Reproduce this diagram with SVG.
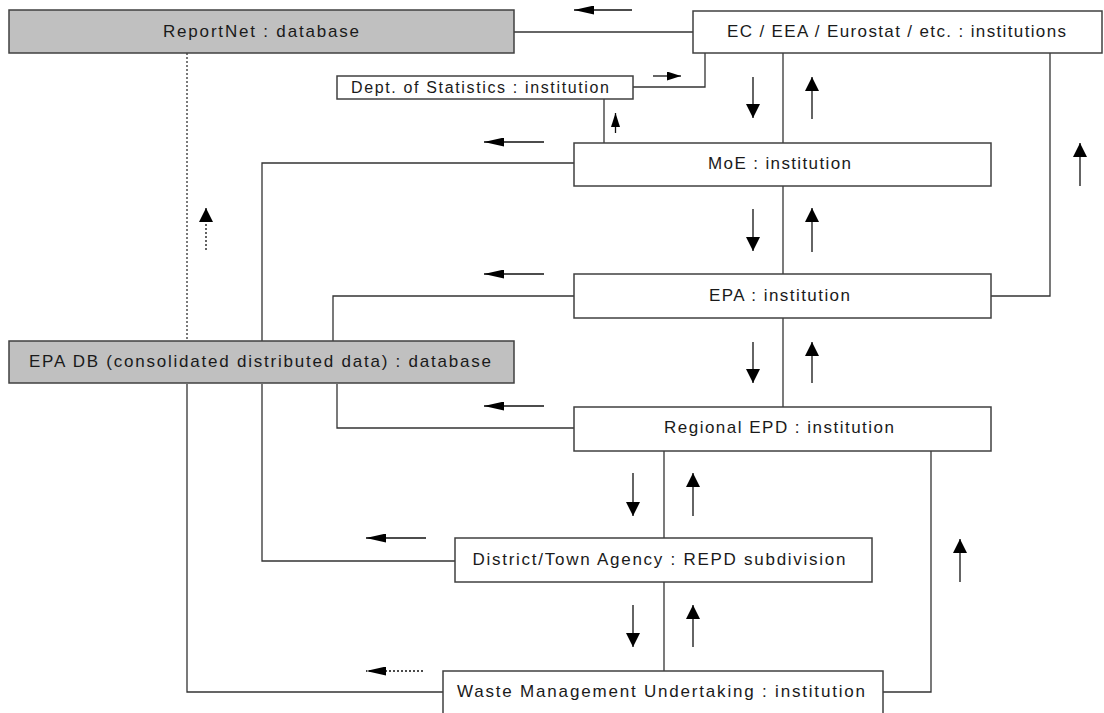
<svg xmlns="http://www.w3.org/2000/svg" width="1104" height="713" viewBox="0 0 1104 713">
<style>
.box{fill:#fff;stroke:#404040;stroke-width:1.5}
.db{fill:#c0c0c0;stroke:#404040;stroke-width:1.5}
.t{font-family:"Liberation Sans",Arial,sans-serif;font-size:17px;fill:#1a1a1a;text-anchor:middle}
.ln{fill:none;stroke:#333;stroke-width:1.3}
.dot{fill:none;stroke:#333;stroke-width:1.3;stroke-dasharray:2 2}
.av{fill:none;stroke:#111;stroke-width:1.3;marker-end:url(#hv)}
.ah{fill:none;stroke:#111;stroke-width:1.3;marker-end:url(#hh)}
.as{fill:none;stroke:#111;stroke-width:1.3;marker-end:url(#hs)}
.ad{fill:none;stroke:#111;stroke-width:1.3;stroke-dasharray:2 2;marker-end:url(#hv)}
.adh{fill:none;stroke:#111;stroke-width:1.3;stroke-dasharray:2 2;marker-end:url(#hh)}
</style>
<defs>
<marker id="hv" markerUnits="userSpaceOnUse" viewBox="0 0 14 14" refX="14" refY="7" markerWidth="14" markerHeight="14" orient="auto"><path d="M0,0 L14,7 L0,14 z" fill="#000"/></marker>
<marker id="hh" markerUnits="userSpaceOnUse" viewBox="0 0 20 9" refX="20" refY="4.5" markerWidth="20" markerHeight="9" orient="auto"><path d="M0,0 L20,4.5 L0,9 z" fill="#000"/></marker>
<marker id="hs" markerUnits="userSpaceOnUse" viewBox="0 0 14 9" refX="14" refY="4.5" markerWidth="14" markerHeight="9" orient="auto"><path d="M0,0 L14,4.5 L0,9 z" fill="#000"/></marker>
</defs>
<rect width="1104" height="713" fill="#fff"/>
<g id="connectors">
<path class="ln" d="M514,32 H693"/>
<path class="dot" d="M187,53 V341"/>
<path class="ln" d="M633,87 H705 V53"/>
<path class="ln" d="M604,99 V143"/>
<path class="ln" d="M783,53 V143"/>
<path class="ln" d="M1050,53 V296 H991"/>
<path class="ln" d="M574,163 H262 V341"/>
<path class="ln" d="M262,384 V561 H455"/>
<path class="ln" d="M783,186 V274"/>
<path class="ln" d="M574,296 H333 V341"/>
<path class="ln" d="M783,318 V407"/>
<path class="ln" d="M337,384 V428 H574"/>
<path class="ln" d="M664,451 V538"/>
<path class="ln" d="M664,582 V671"/>
<path class="ln" d="M187,384 V692 H443"/>
<path class="ln" d="M883,692 H931 V451"/>
<path class="ah" d="M632,10 H574"/>
<path class="as" d="M653,76 H681"/>
<path class="as" d="M615.5,133 V113"/>
<path class="av" d="M753,77 V118"/>
<path class="av" d="M812,119 V77"/>
<path class="av" d="M1080,186 V143"/>
<path class="ah" d="M544,142 H484"/>
<path class="ad" d="M206,250 V208"/>
<path class="av" d="M753,209 V251"/>
<path class="av" d="M812,252 V208"/>
<path class="ah" d="M544,274 H484"/>
<path class="av" d="M753,342 V383"/>
<path class="av" d="M812,383 V342"/>
<path class="ah" d="M544,406 H484"/>
<path class="av" d="M633,473 V516"/>
<path class="av" d="M693,516 V473"/>
<path class="av" d="M960,582 V539"/>
<path class="ah" d="M426,538 H366"/>
<path class="av" d="M633,605 V647"/>
<path class="av" d="M693,647 V605"/>
<path class="adh" d="M423,671 H366"/>
</g>
<g id="reportnet"><rect class="db" x="9" y="10" width="505" height="43"/><text class="t" x="261" y="37" textLength="196" lengthAdjust="spacing">ReportNet : database</text></g>
<g id="ec"><rect class="box" x="693" y="11" width="409" height="42"/><text class="t" x="896.5" y="37" textLength="339" lengthAdjust="spacing">EC / EEA / Eurostat / etc. : institutions</text></g>
<g id="dept"><rect class="box" x="337" y="76" width="296" height="23"/><text class="t" x="480" y="93" textLength="258" lengthAdjust="spacing" style="font-size:16px">Dept. of Statistics : institution</text></g>
<g id="moe"><rect class="box" x="574" y="143" width="417" height="43"/><text class="t" x="779.5" y="169" textLength="143" lengthAdjust="spacing">MoE : institution</text></g>
<g id="epa"><rect class="box" x="574" y="274" width="417" height="44"/><text class="t" x="779.5" y="301" textLength="141" lengthAdjust="spacing">EPA : institution</text></g>
<g id="epadb"><rect class="db" x="9" y="341" width="505" height="42"/><text class="t" x="260" y="367" textLength="462" lengthAdjust="spacing">EPA DB (consolidated distributed data) : database</text></g>
<g id="repd"><rect class="box" x="574" y="407" width="417" height="44"/><text class="t" x="779" y="433" textLength="230" lengthAdjust="spacing">Regional EPD : institution</text></g>
<g id="district"><rect class="box" x="455" y="538" width="417" height="44"/><text class="t" x="659" y="565" textLength="373" lengthAdjust="spacing">District/Town Agency : REPD subdivision</text></g>
<g id="waste"><rect class="box" x="443" y="671" width="440" height="46"/><text class="t" x="661" y="697" textLength="408" lengthAdjust="spacing">Waste Management Undertaking : institution</text></g>
</svg>
